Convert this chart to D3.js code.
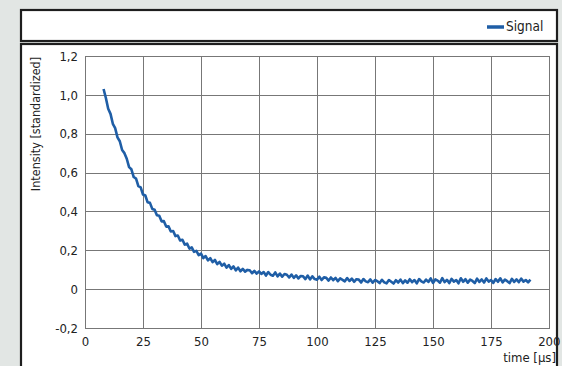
<!DOCTYPE html>
<html>
<head>
<meta charset="utf-8">
<script src="https://cdn.jsdelivr.net/npm/d3@7"></script>
<style>
    body { margin: 0; background: #e2e6e4; }
    svg { display: block; }
    text { font-family: "DejaVu Sans Condensed", "Liberation Sans Narrow", sans-serif; fill: #222; }
</style>
</head>
<body>
<script>
// sampled signal, one sample per µs starting at 8 µs
const startTime = 8;
const sampleStep = 1;
const intensity = [
    1.030, 0.984, 0.929, 0.902, 0.851, 0.829, 0.781, 0.761, 0.716, 0.700,
    0.671, 0.628, 0.617, 0.577, 0.569, 0.530, 0.524, 0.487, 0.482, 0.447,
    0.444, 0.413, 0.409, 0.380, 0.378, 0.349, 0.350, 0.322, 0.323, 0.297,
    0.299, 0.273, 0.276, 0.250, 0.254, 0.229, 0.234, 0.209, 0.215, 0.192,
    0.197, 0.175, 0.183, 0.160, 0.170, 0.148, 0.159, 0.139, 0.150, 0.129,
    0.140, 0.121, 0.131, 0.111, 0.124, 0.104, 0.117, 0.097, 0.111, 0.092,
    0.104, 0.090, 0.099, 0.097, 0.082, 0.094, 0.080, 0.091, 0.078, 0.088,
    0.070, 0.088, 0.074, 0.069, 0.086, 0.066, 0.080, 0.064, 0.078, 0.074,
    0.060, 0.075, 0.058, 0.071, 0.055, 0.068, 0.066, 0.052, 0.070, 0.050,
    0.066, 0.052, 0.049, 0.064, 0.047, 0.061, 0.058, 0.044, 0.060, 0.046,
    0.058, 0.041, 0.055, 0.048, 0.040, 0.057, 0.042, 0.054, 0.038, 0.051,
    0.049, 0.034, 0.052, 0.040, 0.036, 0.050, 0.033, 0.047, 0.041, 0.031,
    0.048, 0.035, 0.030, 0.047, 0.038, 0.029, 0.046, 0.034, 0.049, 0.031,
    0.045, 0.033, 0.051, 0.036, 0.047, 0.030, 0.052, 0.040, 0.034, 0.049,
    0.037, 0.055, 0.032, 0.050, 0.044, 0.033, 0.057, 0.036, 0.048, 0.031,
    0.053, 0.039, 0.047, 0.030, 0.056, 0.038, 0.051, 0.033, 0.049, 0.042,
    0.031, 0.054, 0.037, 0.050, 0.034, 0.055, 0.039, 0.047, 0.032, 0.052,
    0.038, 0.056, 0.035, 0.049, 0.041, 0.031, 0.053, 0.037, 0.050, 0.036,
    0.054, 0.039, 0.047, 0.035, 0.049
];
const xTicks = [0, 25, 50, 75, 100, 125, 150, 175, 200];
const yTicks = [-0.2, 0, 0.2, 0.4, 0.6, 0.8, 1.0, 1.2];
const seriesName = "Signal";

const width = 562, height = 366;
const plot = { left: 85, right: 549, top: 56, bottom: 328 };

const svg = d3.select("body").append("svg")
    .attr("width", width)
    .attr("height", height);

// outer boxes
svg.append("rect")
    .attr("x", 21).attr("y", 10)
    .attr("width", 536).attr("height", 31)
    .attr("fill", "#fff")
    .attr("stroke", "#1e1e1e")
    .attr("stroke-width", 2.2);

svg.append("rect")
    .attr("x", 21).attr("y", 44)
    .attr("width", 536).attr("height", 360)
    .attr("fill", "#fff")
    .attr("stroke", "#1e1e1e")
    .attr("stroke-width", 2.2);

const x = d3.scaleLinear().domain([0, 200]).range([plot.left, plot.right]);
const y = d3.scaleLinear().domain([-0.2, 1.2]).range([plot.bottom, plot.top]);

const grid = svg.append("g").attr("stroke", "#777").attr("stroke-width", 1);

grid.selectAll(".vx")
    .data(xTicks)
    .enter().append("line")
    .attr("x1", d => Math.round(x(d)) + 0.5)
    .attr("x2", d => Math.round(x(d)) + 0.5)
    .attr("y1", plot.top)
    .attr("y2", plot.bottom);

grid.selectAll(".hy")
    .data(yTicks)
    .enter().append("line")
    .attr("y1", d => Math.round(y(d)) + 0.5)
    .attr("y2", d => Math.round(y(d)) + 0.5)
    .attr("x1", plot.left)
    .attr("x2", plot.right + 1);

// tick labels
const xAxis = d3.axisBottom(x).tickValues(xTicks).tickSize(0).tickPadding(9).tickFormat(d3.format("d"));
const xg = svg.append("g")
    .attr("transform", "translate(0," + plot.bottom + ")")
    .call(xAxis);
xg.select(".domain").remove();
xg.selectAll("text")
    .style("font-size", "13px")
    .style("font-family", null)
    .attr("fill", "#222")
    .attr("text-anchor", d => d === 200 ? "end" : "middle")
    .attr("dx", d => d === 200 ? "11px" : null);

const yAxis = d3.axisLeft(y).tickValues(yTicks).tickSize(0).tickPadding(7)
    .tickFormat(d => d === 0 ? "0" : d3.format(".1f")(d).replace("−", "-").replace(".", ","));
const yg = svg.append("g")
    .attr("transform", "translate(" + plot.left + ",0)")
    .call(yAxis);
yg.select(".domain").remove();
yg.selectAll("text")
    .style("font-size", "13px")
    .style("font-family", null)
    .attr("fill", "#222");

svg.append("text")
    .attr("x", 556)
    .attr("y", 362)
    .attr("text-anchor", "end")
    .style("font-size", "13px")
    .text("time [µs]");

svg.append("text")
    .attr("transform", "translate(40,124) rotate(-90)")
    .attr("text-anchor", "middle")
    .style("font-size", "12.5px")
    .text("Intensity [standardized]");

// signal
const line = d3.line()
    .x((d, i) => x(startTime + i * sampleStep))
    .y(d => y(d));

svg.append("path")
    .datum(intensity)
    .attr("d", line)
    .attr("fill", "none")
    .attr("stroke", "#1f5ea6")
    .attr("stroke-width", 2.6)
    .attr("stroke-linejoin", "round");

// legend
const legend = svg.append("g").attr("class", "legend");
legend.append("line")
    .attr("x1", 487).attr("x2", 504)
    .attr("y1", 27).attr("y2", 27)
    .attr("stroke", "#1f5ea6")
    .attr("stroke-width", 3.5);
legend.append("text")
    .attr("x", 506)
    .attr("y", 31)
    .style("font-size", "13.5px")
    .text(seriesName);
</script>
</body>
</html>
